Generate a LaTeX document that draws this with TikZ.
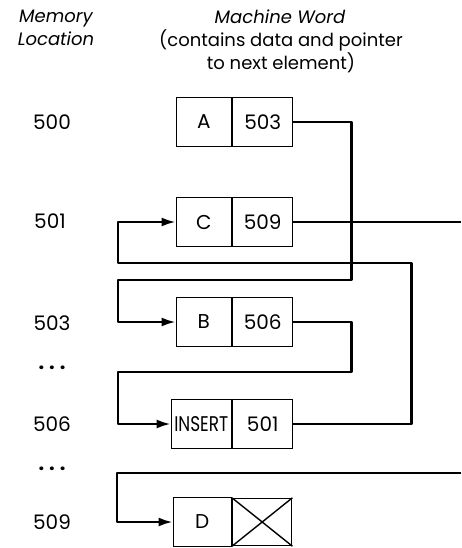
\documentclass[tikz,border=0pt]{standalone}
\usepackage{fontspec}
\usepackage{graphicx}
\setmainfont{Poppins}
\usetikzlibrary{arrows.meta}
\begin{document}
\begin{tikzpicture}[x=1pt,y=-1pt,
  cell/.style={draw,line width=1.4pt,minimum height=49pt,inner sep=0pt,font=\fontsize{20}{22}\selectfont},
  datacell/.style={cell,minimum width=55pt,anchor=east},
  ptrcell/.style={cell,minimum width=60pt,anchor=west},
  loclabel/.style={font=\fontsize{20}{22}\selectfont},
  hdr/.style={font=\fontsize{18}{22.5}\selectfont\itshape,align=center},
  sub/.style={font=\fontsize{18}{23}\selectfont,align=center},
  wire/.style={line width=2.3pt,line join=round},
  arr/.style={wire,-{Latex[length=14pt,width=9pt]}}]
\useasboundingbox (0,0) rectangle (461,548);
% headers
\node[hdr] (hmem) at (56,28) {Memory\\Location};
\node[hdr] (hmw) at (280,17) {Machine Word};
\node[sub] (hsub) at (281,51) {(contains data and pointer\\to next element)};
% location labels
\node[loclabel] (l500) at (52,122) {500};
\node[loclabel] (l501) at (50,221) {501};
\node[loclabel] (l503) at (52,323) {503};
\node[loclabel] (dots1) at (52,368) {\textbf{.\hspace{5pt}.\hspace{5pt}.}};
\node[loclabel] (l506) at (52,424) {506};
\node[loclabel] (dots2) at (52,469) {\textbf{.\hspace{5pt}.\hspace{5pt}.}};
\node[loclabel] (l509) at (52,522) {509};
% words
\node[datacell] (aD) at (232,122) {A};
\node[ptrcell] (aP) at (232,122) {503};
\node[datacell] (cD) at (232,222) {C};
\node[ptrcell] (cP) at (232,222) {509};
\node[datacell] (bD) at (232,322) {B};
\node[ptrcell] (bP) at (232,322) {506};
\node[datacell,minimum width=60pt] (iD) at (232,424) {\resizebox{54pt}{15pt}{INSERT}};
\node[ptrcell] (iP) at (232,424) {501};
\node[datacell,minimum width=58pt] (dD) at (232,522) {D};
\node[ptrcell,minimum width=59pt,minimum height=47pt] (dP) at (232,522) {};
\draw[line width=1.4pt] (dP.north west) -- (dP.south east) (dP.north east) -- (dP.south west);
% free ends
\coordinate (cOut) at (461,222);
\coordinate (dIn) at (461,473);
% connectors
\draw[arr] (aP.east) -- ++(58,0) |- (118,280) |- (bD.west);
\draw[wire] (cP.east) -- (cOut);
\draw[arr] (iP.east) -- ++(118,0) |- (118,263) |- (cD.west);
\draw[arr] (bP.east) -- ++(58,0) |- (118,372) |- (iD.west);
\draw[arr] (dIn) -- (117,473) |- (dD.west);
\end{tikzpicture}
\end{document}
